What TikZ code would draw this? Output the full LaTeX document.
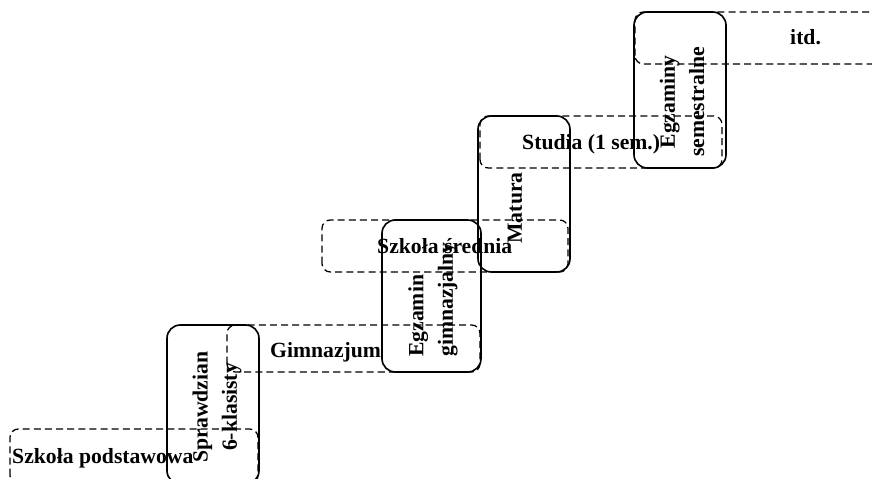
\documentclass[tikz,border=0pt]{standalone}
\usepackage{fontspec}
\setmainfont{Liberation Serif}
\begin{document}
\begin{tikzpicture}[x=3mm,y=3mm,
                    stage/.style={dashed,dash pattern=on 6pt off 3.5pt,line width=1.1pt,rounded corners=2.5mm},
                    exam/.style={line width=1.4pt,rounded corners=4mm},
                    stagelabel/.style={anchor=base west,inner sep=0pt,font=\bfseries\fontsize{18.5}{25}\selectfont},
                    examlabel/.style={rotate=90,inner sep=0pt,align=center,font=\bfseries\fontsize{18.5}{25}\selectfont}]
                    \useasboundingbox (0,0) rectangle (87.2,47.8);
                    
                    \draw[exam] (16.7,-0.6) rectangle (25.9,15.3);
                    \draw[exam] (38.2,10.6) rectangle (48.1,25.8);
                    \draw[exam] (47.8,20.6) rectangle (57.0,36.2);
                    \draw[exam] (63.4,31.0) rectangle (72.6,46.6);
                    
                    \draw[stage] (1.0,-0.6) rectangle (25.8,4.9);
                    \draw[stage] (22.7,10.6) rectangle (48.0,15.3);
                    \draw[stage] (32.2,20.6) rectangle (56.8,25.8);
                    \draw[stage] (48.0,31.0) rectangle (72.2,36.2);
                    \draw[stage] (63.5,41.4) rectangle (89.0,46.6);
                    
                    \node[stagelabel] (podst) at (1.2,1.5) {Szkoła podstawowa};
                    \node[stagelabel] (gimn) at (27.0,12.1) {Gimnazjum};
                    \node[stagelabel] (sredn) at (37.7,22.5) {Szkoła średnia};
                    \node[stagelabel] (studia) at (52.2,32.8) {Studia (1 sem.)};
                    \node[stagelabel] (itd) at (79.0,43.3) {itd.};
                    
                    \node[examlabel] (spraw) at (21.7,7.1) {Sprawdzian\\6-klasisty};
                    \node[examlabel,align=left,anchor=west] (egzgim) at (43.3,12.1) {Egzamin\\gimnazjalny};
                    \node[examlabel] (matura) at (51.5,27.0) {Matura};
                    \node[examlabel] (egzsem) at (68.2,37.6) {Egzaminy\\semestralne};
            
                \end{tikzpicture}
\end{document}
